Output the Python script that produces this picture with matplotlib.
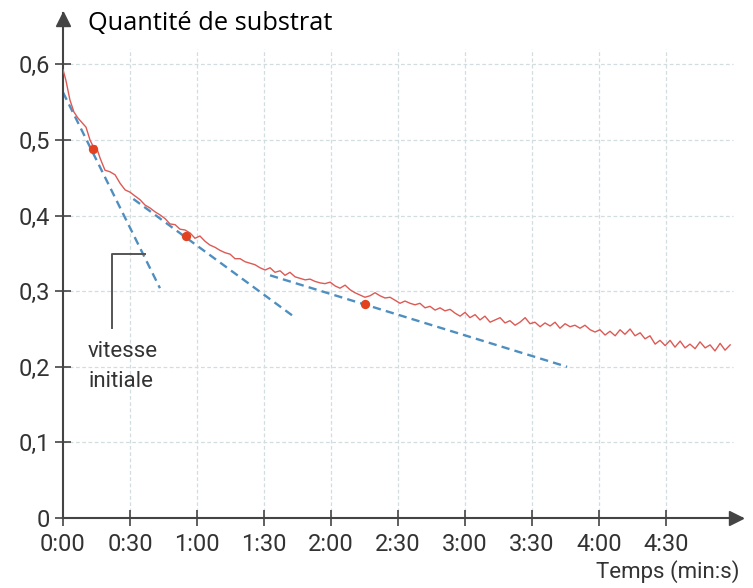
import numpy as np
import matplotlib
matplotlib.use("Agg")
import matplotlib.pyplot as plt

# temps en secondes, quantité de substrat (lecture sur la courbe)
temps = [0.0, 1.3, 3.1, 4.9, 6.7, 8.5, 10.3, 12.1, 13.4, 14.8, 16.6,
         18.8, 21.0, 23.3, 25.5, 27.8, 30.0, 32.2, 34.5, 36.7, 39.0,
         41.2, 43.4, 45.7, 47.9, 50.2, 52.4, 54.6, 56.9, 59.1, 61.3,
         63.6, 65.8, 68.1, 70.3, 72.5, 74.8, 77.0, 79.3, 81.5, 83.7,
         86.0, 88.2, 90.5, 92.7, 94.9, 97.2, 99.4, 101.6, 103.9, 106.1,
         108.4, 110.6, 112.8, 115.1, 117.3, 119.6, 121.8, 124.0, 126.3, 128.5,
         130.7, 133.0, 135.2, 137.5, 139.7, 141.9, 144.2, 146.4, 148.7, 150.9,
         153.1, 155.4, 157.6, 159.8, 162.1, 164.3, 166.6, 168.8, 171.0, 173.3,
         175.5, 177.8, 180.0, 182.2, 184.5, 186.7, 188.9, 191.2, 193.4, 195.7,
         197.9, 200.1, 202.4, 204.6, 206.9, 209.1, 211.3, 213.6, 215.8, 218.1,
         220.3, 222.5, 224.8, 227.0, 229.2, 231.5, 233.7, 236.0, 238.2, 240.4,
         242.7, 244.9, 247.2, 249.4, 251.6, 253.9, 256.1, 258.4, 260.6, 262.8,
         265.1, 267.3, 269.6, 271.8, 274.0, 276.3, 278.5, 280.7, 283.0, 285.2,
         287.5, 289.7, 291.9, 294.2, 296.4, 298.7]
substrat = [0.593, 0.579, 0.553, 0.537, 0.529, 0.523, 0.517, 0.500, 0.492, 0.492, 0.476,
            0.460, 0.458, 0.454, 0.443, 0.434, 0.431, 0.426, 0.421, 0.414, 0.410,
            0.405, 0.401, 0.396, 0.389, 0.388, 0.382, 0.381, 0.377, 0.370, 0.373,
            0.366, 0.361, 0.358, 0.354, 0.351, 0.349, 0.343, 0.343, 0.339, 0.337,
            0.335, 0.331, 0.328, 0.331, 0.325, 0.327, 0.321, 0.325, 0.319, 0.317,
            0.315, 0.316, 0.313, 0.311, 0.310, 0.312, 0.307, 0.304, 0.308, 0.302,
            0.298, 0.295, 0.292, 0.294, 0.298, 0.294, 0.291, 0.292, 0.288, 0.284,
            0.287, 0.284, 0.282, 0.284, 0.278, 0.280, 0.275, 0.278, 0.274, 0.276,
            0.271, 0.267, 0.272, 0.265, 0.269, 0.262, 0.267, 0.259, 0.262, 0.265,
            0.258, 0.261, 0.255, 0.259, 0.265, 0.257, 0.259, 0.253, 0.258, 0.254,
            0.259, 0.251, 0.257, 0.253, 0.255, 0.251, 0.255, 0.249, 0.246, 0.249,
            0.242, 0.247, 0.241, 0.249, 0.243, 0.250, 0.241, 0.245, 0.237, 0.241,
            0.230, 0.235, 0.228, 0.235, 0.226, 0.234, 0.225, 0.230, 0.224, 0.233,
            0.225, 0.229, 0.221, 0.231, 0.222, 0.229]

# points de tangence
pts_t = [13.3, 55.0, 135.0]
pts_q = [0.488, 0.373, 0.283]

# tangentes : (t début, q début, t fin, q fin)
tangentes = [
    (0.0, 0.563, 43.4, 0.304),
    (31.5, 0.422, 104.0, 0.265),
    (92.7, 0.321, 225.7, 0.200),
]

xticks = [0, 30, 60, 90, 120, 150, 180, 210, 240, 270]
xlabels = ["0:00", "0:30", "1:00", "1:30", "2:00", "2:30", "3:00", "3:30", "4:00", "4:30"]
yticks = [0, 0.1, 0.2, 0.3, 0.4, 0.5, 0.6]
ylabels = ["0", "0,1", "0,2", "0,3", "0,4", "0,5", "0,6"]

axe_col = "#444444"
txt_col = "#333333"
grid_col = "#d2dde0"

fig = plt.figure(figsize=(7.53, 5.88), dpi=100)
ax = fig.add_axes([63 / 753, 70 / 588, 679 / 753, 505 / 588])
ax.set_xlim(0, 304)
ax.set_ylim(0, 0.668)

# grille pointillée
ax.hlines(yticks[1:], 0, 300, colors=grid_col, linestyles=(0, (3, 2)), linewidth=0.9, zorder=0)
ax.vlines(xticks[1:], 0, 0.62, colors=grid_col, linestyles=(0, (3, 2)), linewidth=0.9, zorder=0)

# courbe mesurée
ax.plot(temps, substrat, color="#dc5a55", linewidth=1.0, zorder=3)

# tangentes
for t0, q0, t1, q1 in tangentes:
    ax.plot([t0, t1], [q0, q1], color="#4f8fc0", linewidth=1.7,
            linestyle=(0, (3.5, 2.2)), zorder=2)

ax.scatter(pts_t, pts_q, s=45, color="#e2421f", zorder=4, linewidths=0)

# repère "vitesse initiale"
ax.plot([36.7, 21.9, 21.9], [0.349, 0.349, 0.251], color="#555555", linewidth=1.4, zorder=2)
ax.text(11.2, 0.213, "vitesse", fontsize=16, family="Roboto", color=txt_col)
ax.text(11.2, 0.173, "initiale", fontsize=16, family="Roboto", color=txt_col)

# axes avec flèches
for s in ["top", "right"]:
    ax.spines[s].set_visible(False)
for s in ["left", "bottom"]:
    ax.spines[s].set_color(axe_col)
    ax.spines[s].set_linewidth(1.5)
ax.plot(301.3, 0, ">", color=axe_col, markersize=10, clip_on=False, zorder=5)
ax.plot(0, 0.660, "^", color=axe_col, markersize=10, clip_on=False, zorder=5)

ax.set_xticks(xticks)
ax.set_xticklabels(xlabels)
ax.set_yticks(yticks)
ax.set_yticklabels(ylabels)
ax.tick_params(direction="inout", length=12, width=1.2, color=axe_col,
               labelsize=17, labelcolor=txt_col)
ax.tick_params(axis="x", pad=5)
for lab in ax.get_xticklabels() + ax.get_yticklabels():
    lab.set_family("Roboto")

fig.text(88 / 753, 1 - 30 / 588, "Quantité de substrat", fontsize=18.3, family="Open Sans",
         color="black", ha="left", va="baseline")
fig.text(740 / 753, 1 - 578 / 588, "Temps (min:s)", fontsize=16, family="Roboto",
         color=txt_col, ha="right", va="baseline")

fig.savefig("out.png", dpi=100)
